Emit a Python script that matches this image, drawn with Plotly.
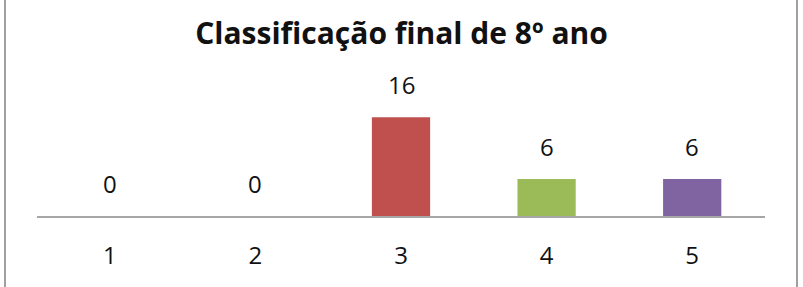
import plotly.graph_objects as go

categories = ["1", "2", "3", "4", "5"]
values = [0, 0, 16, 6, 6]
colors = ["#4F81BD", "#4F81BD", "#C0504D", "#9BBB59", "#8064A2"]
title = "Classificação final de 8º ano"

FONT = "Open Sans"

fig = go.Figure(
    go.Bar(
        x=categories,
        y=values,
        marker=dict(color=colors, line=dict(width=0)),
        width=0.4,
        cliponaxis=False,
        hoverinfo="x+y",
    )
)

# category axis: annotation x is the category index
for i, v in enumerate(values):
    fig.add_annotation(
        x=i, y=v, xref="x", yref="y",
        text=str(v), showarrow=False,
        yanchor="bottom", yshift=14,
        font=dict(family=FONT, size=24, color="#111111"),
    )

fig.update_layout(
    width=803,
    height=287,
    margin=dict(l=37, r=38, t=105, b=71),
    paper_bgcolor="white",
    plot_bgcolor="white",
    showlegend=False,
    title=dict(
        text="<b>" + title + "</b>",
        x=0.5,
        xanchor="center",
        y=1 - 33 / 287,
        yanchor="middle",
        font=dict(family=FONT, size=30, color="#111111"),
    ),
    xaxis=dict(
        type="category",
        categoryorder="array",
        categoryarray=categories,
        range=[-0.5, len(categories) - 0.5],
        showline=True,
        linecolor="#A6A6A6",
        linewidth=2,
        showgrid=False,
        ticks="",
        tickfont=dict(family=FONT, size=24, color="#111111"),
        ticklabelstandoff=17,
    ),
    yaxis=dict(
        range=[0, 18],
        visible=False,
        showgrid=False,
        zeroline=False,
    ),
    shapes=[
        dict(type="line", xref="paper", yref="paper", x0=-32 / 728, x1=-32 / 728,
             y0=-1, y1=2, line=dict(color="#A0A0A0", width=2)),
        dict(type="line", xref="paper", yref="paper", x0=1 + 32 / 728, x1=1 + 32 / 728,
             y0=-1, y1=2, line=dict(color="#A0A0A0", width=2)),
    ],
)

fig.write_html("out.html")
